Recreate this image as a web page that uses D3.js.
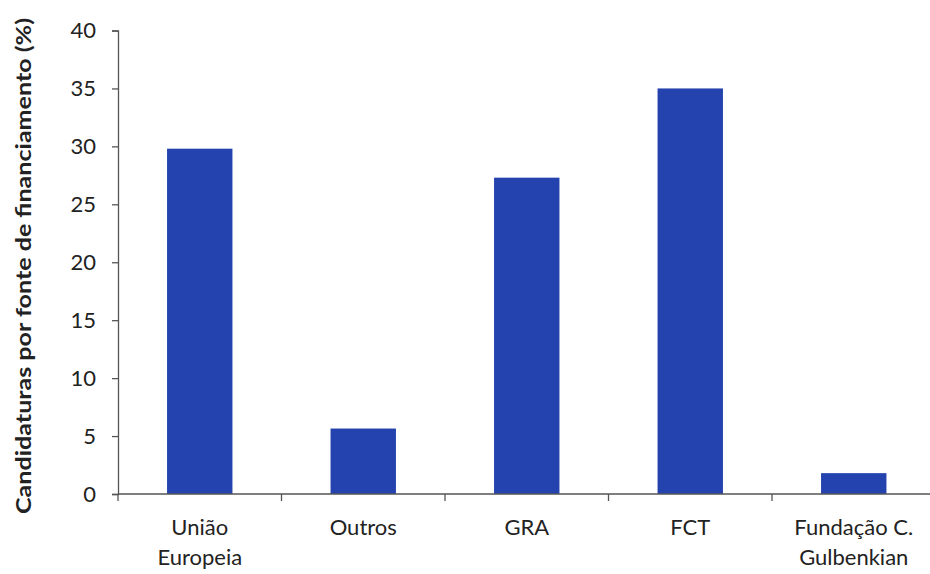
<!DOCTYPE html>
<html><head><meta charset="utf-8">
<script src="https://cdn.jsdelivr.net/npm/d3@7"></script>
<style>body{margin:0;background:#fff}svg{display:block}</style>
</head><body>
<script>
const categories = [["União","Europeia"],["Outros"],["GRA"],["FCT"],["Fundação C.","Gulbenkian"]];
const values = [29.8, 5.65, 27.3, 35.0, 1.8];
const yTicks = [0,5,10,15,20,25,30,35,40];
const yLabel = "Candidaturas por fonte de financiamento (%)";

const W = 930, H = 574;
const svg = d3.select("body").append("svg").attr("width", W).attr("height", H);
const x0 = 118, step = 163.5;
const x = d3.scaleBand().domain(d3.range(categories.length)).range([x0, x0 + step * categories.length]).padding(0);
const y = d3.scaleLinear().domain([0, 40]).range([494, 30.5]);
const font = "Lato, 'Open Sans', sans-serif";
const bw = x.bandwidth() * 0.4;

svg.selectAll("rect.bar").data(values).join("rect")
  .attr("x", (d, i) => x(i) + (x.bandwidth() - bw) / 2)
  .attr("y", d => y(d))
  .attr("width", bw)
  .attr("height", d => y(0) - y(d))
  .attr("fill", "#2443ae");

const yAxis = svg.append("g").attr("transform", `translate(${x0},0)`)
  .call(d3.axisLeft(y).tickValues(yTicks).tickSize(6).tickPadding(16));
yAxis.select(".domain").attr("stroke", "#555").attr("stroke-width", 1.3);
yAxis.selectAll(".tick line").attr("stroke", "#555").attr("stroke-width", 1.3);
yAxis.selectAll(".tick text").attr("font-family", font).attr("font-size", 22).attr("fill", "#222");

svg.append("line").attr("x1", x0).attr("x2", W).attr("y1", y(0)).attr("y2", y(0)).attr("stroke", "#555").attr("stroke-width", 1.3);
svg.selectAll("line.xt").data(d3.range(categories.length + 1)).join("line")
  .attr("class", "xt")
  .attr("x1", i => x0 + i * x.step()).attr("x2", i => x0 + i * x.step())
  .attr("y1", y(0)).attr("y2", y(0) + 7)
  .attr("stroke", "#555").attr("stroke-width", 1.3);

const lbl = svg.selectAll("text.xl").data(categories).join("text")
  .attr("class", "xl")
  .attr("text-anchor", "middle")
  .attr("font-family", font).attr("font-size", 22).attr("fill", "#222")
  .attr("transform", (d, i) => `translate(${x(i) + x.bandwidth() / 2},535)`);
lbl.selectAll("tspan").data(d => d).join("tspan")
  .attr("x", 0).attr("dy", (d, j) => j === 0 ? 0 : 30).text(d => d);

svg.append("text")
  .attr("transform", `translate(31,266) rotate(-90)`)
  .attr("text-anchor", "middle")
  .attr("font-family", font).attr("font-weight", "bold").attr("font-size", 21).attr("fill", "#222")
  .attr("textLength", 496).attr("lengthAdjust", "spacingAndGlyphs")
  .text(yLabel);
</script>
</body></html>
